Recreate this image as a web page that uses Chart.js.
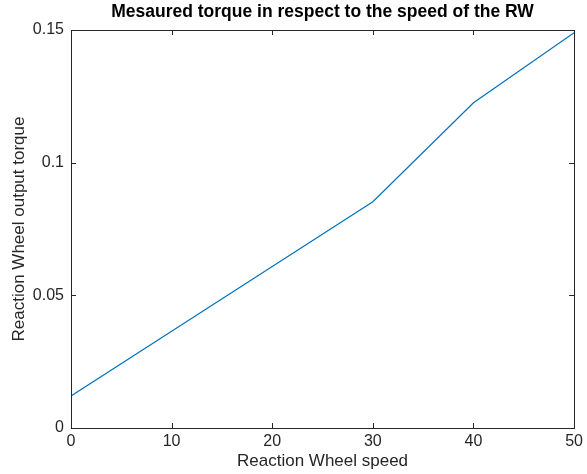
<!DOCTYPE html>
<html>
<head>
<meta charset="utf-8">
<script src="https://cdn.jsdelivr.net/npm/chart.js@4/dist/chart.umd.min.js"></script>
<style>
  html, body { margin: 0; padding: 0; background: #fff; }
  #wrap { width: 587px; height: 474px; }
</style>
</head>
<body>
<div id="wrap"><canvas id="torqueChart" width="587" height="474"></canvas></div>
<script>
const speeds = [0, 10, 20, 30, 40, 50];
const torques = [0.0121, 0.0365, 0.0609, 0.0853, 0.1226, 0.149];
const xTicks = [0, 10, 20, 30, 40, 50];
const yTicks = [0, 0.05, 0.1, 0.15];

const axisColor = '#262626';
const fontFamily = "'Liberation Sans', Arial, Helvetica, sans-serif";

// matlab style box with inward ticks on all four sides
const boxPlugin = {
    id: 'matlabBox',
    afterDraw(chart) {
        const { ctx, chartArea: a, scales } = chart;
        const len = 5;
        ctx.save();
        ctx.strokeStyle = axisColor;
        ctx.lineWidth = 1;
        ctx.strokeRect(Math.round(a.left) + 0.5, Math.round(a.top) + 0.5,
            Math.round(a.right - a.left), Math.round(a.bottom - a.top));
        ctx.beginPath();
        xTicks.forEach(v => {
            const px = Math.round(scales.x.getPixelForValue(v)) + 0.5;
            ctx.moveTo(px, a.bottom); ctx.lineTo(px, a.bottom - len);
            ctx.moveTo(px, a.top); ctx.lineTo(px, a.top + len);
        });
        yTicks.forEach(v => {
            const py = Math.round(scales.y.getPixelForValue(v)) + 0.5;
            ctx.moveTo(a.left, py); ctx.lineTo(a.left + len, py);
            ctx.moveTo(a.right, py); ctx.lineTo(a.right - len, py);
        });
        ctx.stroke();
        ctx.restore();
    }
};

new Chart(document.getElementById('torqueChart'), {
    type: 'line',
    data: {
        datasets: [{
            data: speeds.map((s, i) => ({ x: s, y: torques[i] })),
            borderColor: '#0072BD',
            borderWidth: 1.2,
            pointRadius: 0,
            tension: 0,
            fill: false
        }]
    },
    options: {
        responsive: false,
        animation: false,
        layout: { padding: { left: 4, right: 11, top: 0, bottom: 2 } },
        plugins: {
            legend: { display: false },
            tooltip: { enabled: false },
            title: {
                display: true,
                fullSize: false,
                text: 'Mesaured torque in respect to the speed of the RW',
                color: '#000',
                font: { family: fontFamily, size: 17.5, weight: 'bold', lineHeight: 1.2 },
                padding: { top: 2, bottom: 7 }
            }
        },
        scales: {
            x: {
                type: 'linear',
                min: 0,
                max: 50,
                afterBuildTicks: s => { s.ticks = xTicks.map(v => ({ value: v })); },
                afterFit: s => { s.height = 44; },
                grid: { display: false, drawTicks: false },
                border: { display: false },
                ticks: { color: axisColor, font: { family: fontFamily, size: 16 }, padding: 4 },
                title: {
                    display: true,
                    text: 'Reaction Wheel speed',
                    color: axisColor,
                    font: { family: fontFamily, size: 17 },
                    padding: { top: 0, bottom: 0 }
                }
            },
            y: {
                type: 'linear',
                min: 0,
                max: 0.15,
                afterBuildTicks: s => { s.ticks = yTicks.map(v => ({ value: v })); },
                afterFit: s => { s.width = 67; },
                grid: { display: false, drawTicks: false },
                border: { display: false },
                ticks: {
                    color: axisColor,
                    font: { family: fontFamily, size: 16 },
                    padding: 7,
                    callback: v => String(v)
                },
                title: {
                    display: true,
                    text: 'Reaction Wheel output torque',
                    color: axisColor,
                    font: { family: fontFamily, size: 17 },
                    padding: { top: 5, bottom: 0 }
                }
            }
        }
    },
    plugins: [boxPlugin]
});
</script>
</body>
</html>
